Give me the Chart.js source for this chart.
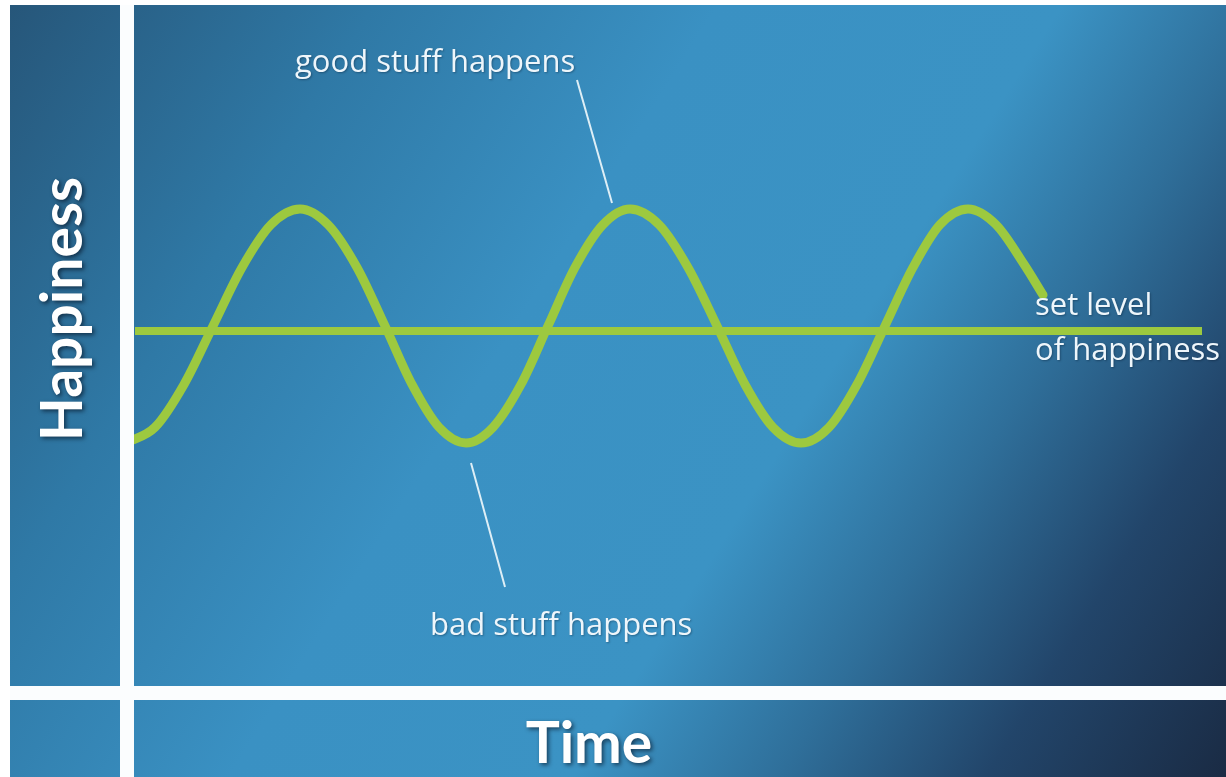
<!DOCTYPE html>
<html>
<head>
<meta charset="utf-8">
<script src="https://cdn.jsdelivr.net/npm/chart.js@4/dist/chart.umd.min.js"></script>
<style>
  html, body { margin: 0; padding: 0; background: #ffffff; overflow: hidden; }
  #wrap { width: 1226px; height: 777px; position: relative; }
</style>
</head>
<body>
<div id="wrap"><canvas id="c" width="1226" height="777"></canvas></div>
<script>
// ---- data ----
const timeVals  = [-0.08, 0.21, 0.50, 0.79, 1.08, 1.37, 1.66, 1.94, 2.23, 2.51, 2.78, 3.05, 3.32, 3.59, 3.87, 4.14, 4.41, 4.69, 4.96, 5.25, 5.54, 5.83, 6.11, 6.39, 6.67, 6.95, 7.23, 7.51, 7.79, 8.06, 8.34, 8.62, 8.90, 9.09];
const happyVals = [-0.957, -0.823, -0.457, 0.043, 0.543, 0.909, 1.043, 0.909, 0.543, 0.043, -0.457, -0.823, -0.957, -0.823, -0.457, 0.043, 0.543, 0.909, 1.043, 0.909, 0.543, 0.043, -0.457, -0.823, -0.957, -0.823, -0.457, 0.043, 0.543, 0.909, 1.043, 0.909, 0.57, 0.308];
const setLevelTime  = [0.01, 10.68];
const setLevelValue = [0, 0];
const axisTitleY = "Happiness";
const axisTitleX = "Time";
const noteGood = "good stuff happens";
const noteBad = "bad stuff happens";
const noteSet = ["set level", "of happiness"];

const wavePoints = timeVals.map((t, i) => ({ x: t, y: happyVals[i] }));
const levelPoints = setLevelTime.map((t, i) => ({ x: t, y: setLevelValue[i] }));

const GREEN = '#9dc93f';
const TEXT = '#eef6fb';

const backgroundPlugin = {
  id: 'bg',
  beforeDraw(chart) {
    const ctx = chart.ctx;
    const W = chart.width, H = chart.height;
    ctx.save();
    ctx.fillStyle = '#ffffff';
    ctx.fillRect(0, 0, W, H);
    const g = ctx.createLinearGradient(0, 0, W, H);
    g.addColorStop(0.00, '#265578');
    g.addColorStop(0.22, '#2f79a6');
    g.addColorStop(0.42, '#3a91c3');
    g.addColorStop(0.62, '#3b93c4');
    g.addColorStop(0.74, '#2f6f9a');
    g.addColorStop(0.86, '#22456a');
    g.addColorStop(1.00, '#1a2b44');
    ctx.fillStyle = g;
    ctx.fillRect(10, 5, W - 10, H - 5);
    ctx.restore();
  }
};

const overlayPlugin = {
  id: 'overlay',
  afterDraw(chart) {
    const ctx = chart.ctx;
    const a = chart.chartArea;
    const xs = chart.scales.x, ys = chart.scales.y;
    const W = chart.width, H = chart.height;
    ctx.save();
    // white axis cross lines
    ctx.fillStyle = '#fbfdfe';
    ctx.fillRect(a.left - 14, 5, 14, H - 5);
    ctx.fillRect(10, a.bottom, W - 10, 14);

    // leader lines
    ctx.strokeStyle = 'rgba(240,248,252,0.9)';
    ctx.lineWidth = 2;
    ctx.beginPath();
    ctx.moveTo(xs.getPixelForValue(4.43), ys.getPixelForValue(2.145));
    ctx.lineTo(xs.getPixelForValue(4.78), ys.getPixelForValue(1.094));
    ctx.moveTo(xs.getPixelForValue(3.37), ys.getPixelForValue(-1.128));
    ctx.lineTo(xs.getPixelForValue(3.71), ys.getPixelForValue(-2.188));
    ctx.stroke();

    // notes
    ctx.fillStyle = TEXT;
    ctx.shadowColor = 'rgba(0,20,40,0.35)';
    ctx.shadowBlur = 2;
    ctx.shadowOffsetX = 1;
    ctx.shadowOffsetY = 1;
    ctx.font = '31px "Open Sans"';
    ctx.textAlign = 'left';
    ctx.textBaseline = 'alphabetic';
    ctx.fillText(noteGood, xs.getPixelForValue(1.61), ys.getPixelForValue(2.214));
    ctx.fillText(noteBad, xs.getPixelForValue(2.96), ys.getPixelForValue(-2.598));
    ctx.fillText(noteSet[0], xs.getPixelForValue(9.01), ys.getPixelForValue(0.137));
    ctx.fillText(noteSet[1], xs.getPixelForValue(9.01), ys.getPixelForValue(-0.248));

    // axis titles
    ctx.shadowColor = 'rgba(0,10,25,0.6)';
    ctx.shadowBlur = 4;
    ctx.shadowOffsetX = 2;
    ctx.shadowOffsetY = 2;
    ctx.fillStyle = '#ffffff';
    ctx.font = 'bold 57px Lato';
    ctx.textAlign = 'center';
    ctx.fillText(axisTitleX, 589, 763);
    ctx.save();
    ctx.translate(82, 309);
    ctx.rotate(-Math.PI / 2);
    ctx.fillText(axisTitleY, 0, 0);
    ctx.restore();
    ctx.restore();
  }
};

function build() {
  new Chart(document.getElementById('c'), {
    type: 'line',
    data: {
      datasets: [
        {
          label: 'Happiness',
          data: wavePoints,
          borderColor: GREEN,
          borderWidth: 9,
          borderCapStyle: 'round',
          pointRadius: 0,
          fill: false,
          cubicInterpolationMode: 'monotone'
        },
        {
          label: 'Set level',
          data: levelPoints,
          borderColor: GREEN,
          borderWidth: 8,
          borderCapStyle: 'butt',
          pointRadius: 0,
          fill: false
        }
      ]
    },
    options: {
      responsive: false,
      animation: false,
      events: [],
      layout: { padding: { left: 134, top: 5, right: 0, bottom: 91 } },
      plugins: { legend: { display: false }, tooltip: { enabled: false }, title: { display: false } },
      scales: {
        x: { type: 'linear', min: 0, max: 10.92, display: false },
        y: { type: 'linear', min: -3.034, max: 2.786, display: false }
      }
    },
    plugins: [backgroundPlugin, overlayPlugin]
  });
}

const fontLoads = [
  document.fonts.load('31px "Open Sans"'),
  document.fonts.load('bold 57px Lato')
];
Promise.all(fontLoads).then(build, build);
</script>
</body>
</html>
